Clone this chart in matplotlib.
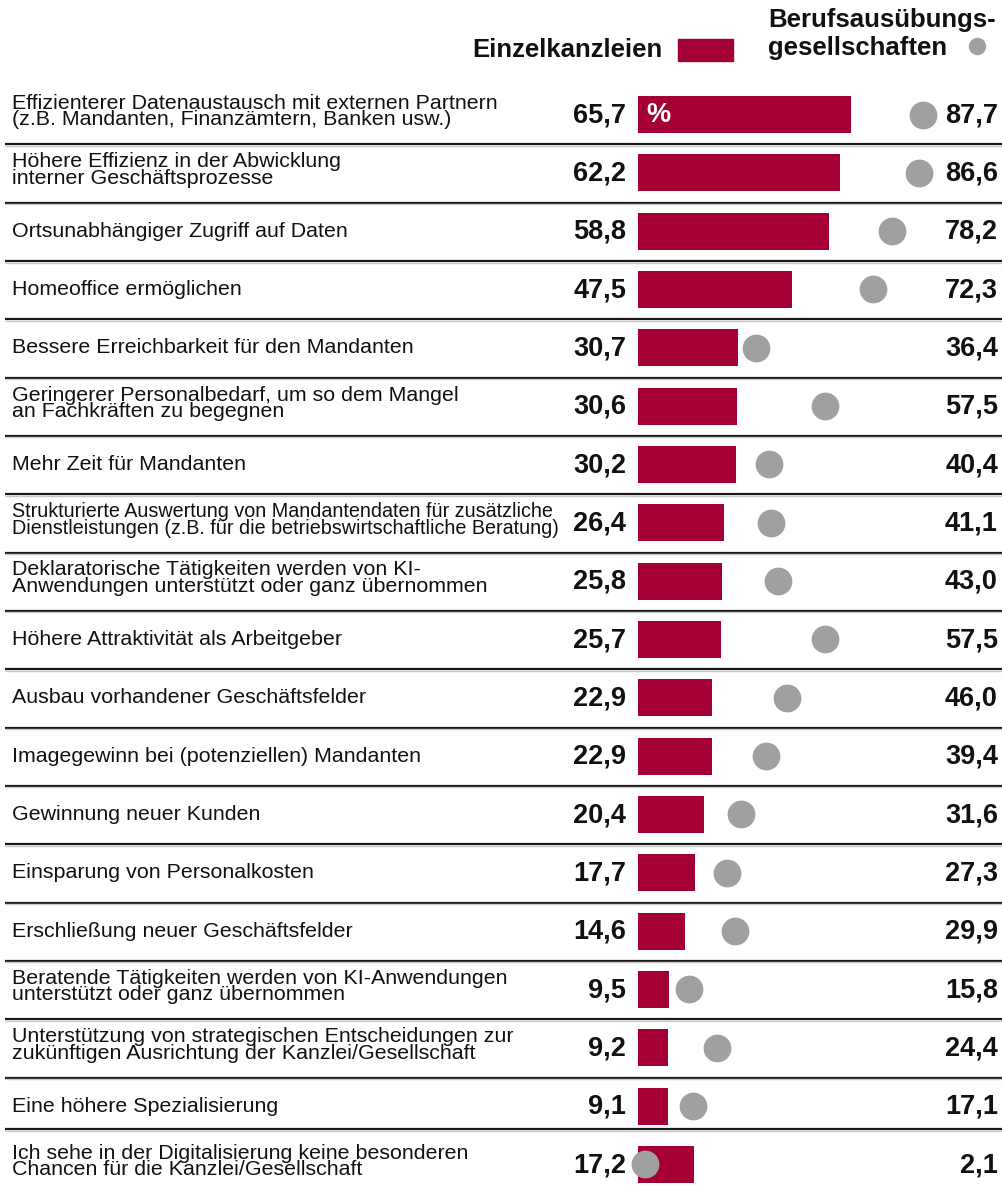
import matplotlib
matplotlib.use("Agg")
import matplotlib.pyplot as plt
from matplotlib import transforms
from matplotlib.lines import Line2D

plt.rcParams['font.family'] = ['Liberation Sans', 'DejaVu Sans']

labels = [
    "Effizienterer Datenaustausch mit externen Partnern\n(z.B. Mandanten, Finanzämtern, Banken usw.)",
    "Höhere Effizienz in der Abwicklung\ninterner Geschäftsprozesse",
    "Ortsunabhängiger Zugriff auf Daten",
    "Homeoffice ermöglichen",
    "Bessere Erreichbarkeit für den Mandanten",
    "Geringerer Personalbedarf, um so dem Mangel\nan Fachkräften zu begegnen",
    "Mehr Zeit für Mandanten",
    "Strukturierte Auswertung von Mandantendaten für zusätzliche\nDienstleistungen (z.B. für die betriebswirtschaftliche Beratung)",
    "Deklaratorische Tätigkeiten werden von KI-\nAnwendungen unterstützt oder ganz übernommen",
    "Höhere Attraktivität als Arbeitgeber",
    "Ausbau vorhandener Geschäftsfelder",
    "Imagegewinn bei (potenziellen) Mandanten",
    "Gewinnung neuer Kunden",
    "Einsparung von Personalkosten",
    "Erschließung neuer Geschäftsfelder",
    "Beratende Tätigkeiten werden von KI-Anwendungen\nunterstützt oder ganz übernommen",
    "Unterstützung von strategischen Entscheidungen zur\nzukünftigen Ausrichtung der Kanzlei/Gesellschaft",
    "Eine höhere Spezialisierung",
    "Ich sehe in der Digitalisierung keine besonderen\nChancen für die Kanzlei/Gesellschaft",
]
einzel = [65.7, 62.2, 58.8, 47.5, 30.7, 30.6, 30.2, 26.4, 25.8, 25.7,
          22.9, 22.9, 20.4, 17.7, 14.6, 9.5, 9.2, 9.1, 17.2]
berufs = [87.7, 86.6, 78.2, 72.3, 36.4, 57.5, 40.4, 41.1, 43.0, 57.5,
          46.0, 39.4, 31.6, 27.3, 29.9, 15.8, 24.4, 17.1, 2.1]
legend_einzel = "Einzelkanzleien"
legend_berufs = ["Berufsausübungs-", "gesellschaften"]

W, H = 1003, 1202
DPI = 100
BAR_RED = "#a50034"
DOT_GREY = "#a0a0a0"
TXT = "#111111"

fig = plt.figure(figsize=(W / DPI, H / DPI), dpi=DPI)
ax = fig.add_axes([0, 0, 1, 1])
ax.axis("off")

# pixel mapping: value 0 at x=638 px, 3.245 px per unit; row centres start at 114.5 px, 58.33 px apart
x0_px, sx = 638.0, 3.245
y0_px, sy = 114.5, 58.33
ax.set_xlim(-x0_px / sx, (W - x0_px) / sx)
ax.set_ylim((H - y0_px) / sy, -y0_px / sy)

n = len(labels)
rows = list(range(n))
bt = transforms.blended_transform_factory(ax.transAxes, ax.transData)

# separator lines
for i in range(n - 1):
    y = i + 0.51 if i < n - 2 else i + 0.4
    ax.plot([5 / W, 1.0], [y, y], transform=bt,
            color="#1a1a1a", lw=1.6, solid_capstyle="butt", zorder=1)
    ax.plot([5 / W, 1.0], [y + 1.6 / sy, y + 1.6 / sy], transform=bt,
            color="#c8c8c8", lw=1.0, solid_capstyle="butt", zorder=1)

ax.barh(rows, einzel, height=0.634, left=0, color=BAR_RED, zorder=2)
ax.plot(berufs, rows, "o", ms=20, color=DOT_GREY, mec="none", zorder=3)

for i, (lab, e, b) in enumerate(zip(labels, einzel, berufs)):
    fs = 14.2 if i == 7 else 15.4
    ax.text(12 / W, i - 0.05 if "\n" in lab else i, lab, transform=bt, ha="left", va="center",
            fontsize=fs, color=TXT, linespacing=0.83)
    ax.text(626 / W, i + 0.01, f"{e:.1f}".replace(".", ","), transform=bt, ha="right", va="center",
            fontsize=19.5, fontweight="bold", color=TXT)
    ax.text(998 / W, i + 0.01, f"{b:.1f}".replace(".", ","), transform=bt, ha="right", va="center",
            fontsize=19.5, fontweight="bold", color=TXT)

# percent sign inside first bar
ax.text(646 / W, 0.01, "%", transform=bt, ha="left", va="center", fontsize=19.5,
        fontweight="bold", color="white", zorder=4)

# legend header
fig.text(663 / W, 1 - 57 / H, legend_einzel, ha="right", va="baseline", fontsize=18.5,
         fontweight="bold", color=TXT)
fig.patches.append(plt.Rectangle((678 / W, 1 - 61 / H), 55 / W, 22 / H,
                                 transform=fig.transFigure, color=BAR_RED))
fig.text(768 / W, 1 - 27 / H, legend_berufs[0], ha="left", va="baseline", fontsize=18.5,
         fontweight="bold", color=TXT)
fig.text(768 / W, 1 - 55 / H, legend_berufs[1], ha="left", va="baseline", fontsize=18.5,
         fontweight="bold", color=TXT)
fig.add_artist(Line2D([977 / W], [1 - 46 / H], marker="o", ms=12.5,
                      color=DOT_GREY, mec="none", transform=fig.transFigure))

fig.savefig("out.png", dpi=DPI)
